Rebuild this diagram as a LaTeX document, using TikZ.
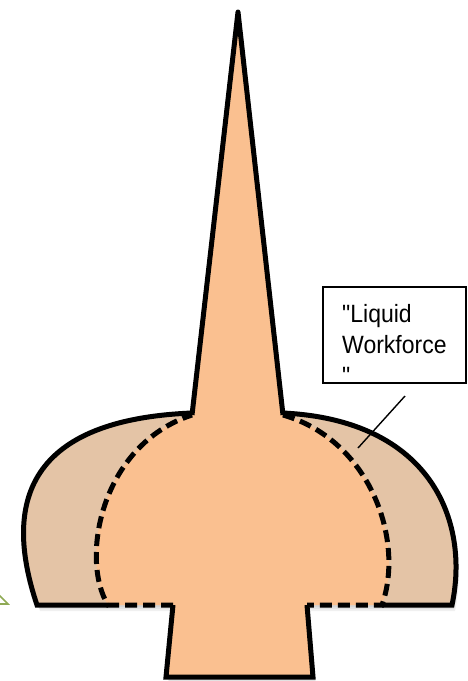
\documentclass[tikz,border=0pt]{standalone}
\usepackage{fontspec}
\newfontfamily\calloutfont[FakeStretch=0.92]{Liberation Sans}
\usetikzlibrary{positioning}
\definecolor{domefill}{HTML}{E4C4A6}
\definecolor{bulbfill}{HTML}{FAC090}
\definecolor{edgeline}{HTML}{000000}
\definecolor{markgreen}{HTML}{8FAA55}

\begin{document}
\begin{tikzpicture}[
  x=1pt, y=-1pt,
  outline/.style={draw=edgeline, line width=5pt, line join=round},
  dashline/.style={draw=edgeline, line width=5pt, dash pattern=on 12pt off 6pt},
  shade/.style={fill=black, opacity=0.06},
  callout/.style={draw=edgeline, fill=white, line width=1.6pt, minimum width=143pt, minimum height=96pt, inner sep=0pt},
  callouttext/.style={font=\calloutfont\fontsize{25}{31}\selectfont, align=left, inner sep=0pt},
  leader/.style={draw=edgeline, line width=1.4pt},
]
\useasboundingbox (0,0) rectangle (467,681);

% ===== soft shadow under the shapes =====
\foreach \d in {2,4,6} {
  \fill[shade, shift={(\d*0.5,\d)}] (192,413) .. controls (20,420) and (5,510) .. (37,605)
    -- (173,605) -- (166,677) -- (313,677) -- (307,605)
    -- (452,605) .. controls (470,520) and (430,420) .. (283,413) -- cycle;
}

% ===== outer dome (tan) =====
\fill[domefill] (192,413) .. controls (20,420) and (5,510) .. (37,605)
  -- (452,605) .. controls (470,520) and (430,420) .. (283,413) -- cycle;

% ===== inner bulb + spire + stem (orange) =====
\fill[bulbfill] (192,415) -- (238,12) -- (283,415)
  .. controls (370,440) and (405,540) .. (382,605) -- (307,605)
  -- (313,677) -- (166,677) -- (173,605) -- (108,605)
  .. controls (80,560) and (100,445) .. (192,415) -- cycle;

% ===== solid outlines =====
\draw[outline, line join=miter] (108,605) -- (37,605) .. controls (5,510) and (20,420) .. (192,413);
\draw[outline, line join=miter] (283,413) .. controls (430,420) and (470,520) .. (452,605) -- (382,605);
\draw[outline] (192,415) -- (238,12) -- (283,415);
\draw[outline, line join=miter] (173,605) -- (166,677) -- (313,677) -- (307,605);

% ===== dashed inner boundary =====
\draw[dashline] (283,415) .. controls (370,440) and (405,540) .. (382,605) -- (307,605);
\draw[dashline] (173,605) -- (108,605) .. controls (80,560) and (100,445) .. (192,415);

% ===== callout =====
\node[callout, anchor=north west] (labelbox) at (322,286) {};
\node[callouttext, anchor=north west] (labeltext) at (342,304) {"Liquid\\Workforce\\"};
\coordinate (leadtop) at (405,396);
\coordinate (leadend) at (358,448);
\draw[leader] (leadtop) -- (leadend);

% ===== green mark at the left edge =====
\begin{scope}
  \clip (0,0) rectangle (467,681);
  \draw[markgreen, line width=1.6pt] (-12,584) -- (8,604) -- (-12,604) -- cycle;
\end{scope}

\end{tikzpicture}
\end{document}
